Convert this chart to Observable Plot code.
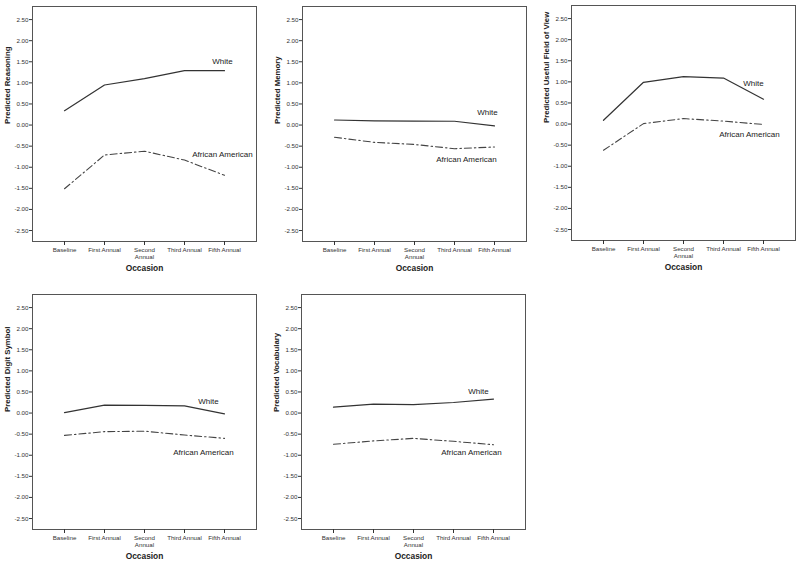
<!DOCTYPE html>
<html>
<head>
<meta charset="utf-8">
<script src="https://cdn.jsdelivr.net/npm/d3@7"></script>
<script src="https://cdn.jsdelivr.net/npm/@observablehq/plot@0.6"></script>
<style>
  html, body { margin: 0; padding: 0; background: #fff; overflow: hidden; }
  #wrap { position: relative; width: 800px; height: 562px; }
  .panel { position: absolute; width: 268px; }
  .panel svg { max-width: none !important; }
</style>
</head>
<body>
<div id="wrap"></div>
<script>
// ---- data ----
const occasions = ["Baseline", "First Annual", "Second\nAnnual", "Third Annual", "Fifth Annual"];
const groups = ["White", "African American"];
const yTicks = [-2.5, -2, -1.5, -1, -0.5, 0, 0.5, 1, 1.5, 2, 2.5];

const reasoningWhite = [0.34, 0.95, 1.10, 1.29, 1.29];
const reasoningAA    = [-1.51, -0.71, -0.62, -0.83, -1.19];
const memoryWhite    = [0.12, 0.10, 0.095, 0.09, -0.02];
const memoryAA       = [-0.29, -0.41, -0.46, -0.56, -0.52];
const ufovWhite      = [0.09, 0.99, 1.125, 1.09, 0.59];
const ufovAA         = [-0.62, 0.01, 0.13, 0.07, -0.01];
const digitWhite     = [0.01, 0.19, 0.18, 0.17, -0.02];
const digitAA        = [-0.53, -0.44, -0.43, -0.52, -0.60];
const vocabWhite     = [0.14, 0.21, 0.20, 0.25, 0.33];
const vocabAA        = [-0.74, -0.66, -0.60, -0.67, -0.75];

const yLabels = ["Predicted Reasoning", "Predicted Memory", "Predicted Useful Field of View",
                 "Predicted Digit Symbol", "Predicted Vocabulary"];

// ---- layout / annotation placement ----
const panels = [
  {label: yLabels[0], white: reasoningWhite, aa: reasoningAA, left: 0,   top: 0,
   wLab: {y: 1.505, dx: -2},  aLab: {y: -0.69, dx: -2}},
  {label: yLabels[1], white: memoryWhite,    aa: memoryAA,    left: 270, top: 0,
   wLab: {y: 0.29, dx: -7},   aLab: {y: -0.81, dx: -28}},
  {label: yLabels[2], white: ufovWhite,      aa: ufovAA,      left: 539, top: -1,
   wLab: {y: 0.96, dx: -10},  aLab: {y: -0.24, dx: -14}},
  {label: yLabels[3], white: digitWhite,     aa: digitAA,     left: 0,   top: 288,
   wLab: {y: 0.28, dx: -16},  aLab: {y: -0.94, dx: -21}},
  {label: yLabels[4], white: vocabWhite,     aa: vocabAA,     left: 269, top: 288,
   wLab: {y: 0.52, dx: -15},  aLab: {y: -0.94, dx: -22}}
];

const fmt = d => d.toFixed(2);
const wrap = document.getElementById("wrap");

for (const p of panels) {
  const rows = [];
  occasions.forEach((o, i) => {
    rows.push({occasion: o, group: groups[0], value: p.white[i]});
    rows.push({occasion: o, group: groups[1], value: p.aa[i]});
  });
  const chart = Plot.plot({
    width: 268,
    height: 282,
    marginLeft: 32,
    marginRight: 12,
    marginTop: 6,
    marginBottom: 41,
    style: {fontFamily: "'Liberation Sans', Arial, sans-serif", fontSize: "6px", color: "#333", background: "#fff"},
    x: {type: "point", domain: occasions, padding: 0.8},
    y: {domain: [-2.76, 2.81]},
    marks: [
      Plot.frame({stroke: "#555", strokeWidth: 1}),
      Plot.axisY({ticks: yTicks, tickFormat: fmt, tickSize: 3, tickPadding: 1, label: null, fontSize: 6.2, fill: "#333", stroke: "#333"}),
      Plot.axisX({tickSize: 4, tickPadding: 2, label: null, fontSize: 6.2, lineHeight: 1.05, fill: "#333", stroke: "#333"}),
      Plot.line(rows.filter(d => d.group === groups[0]),
        {x: "occasion", y: "value", stroke: "#333", strokeWidth: 1.2}),
      Plot.line(rows.filter(d => d.group === groups[1]),
        {x: "occasion", y: "value", stroke: "#444", strokeWidth: 1.1, strokeDasharray: "7,3,1.5,3"}),
      Plot.text([{occasion: occasions[4], value: p.wLab.y, t: groups[0]}],
        {x: "occasion", y: "value", text: "t", dx: p.wLab.dx, fontSize: 8, fill: "#222"}),
      Plot.text([{occasion: occasions[4], value: p.aLab.y, t: groups[1]}],
        {x: "occasion", y: "value", text: "t", dx: p.aLab.dx, fontSize: 8, fill: "#222"}),
      Plot.text([p.label], {frameAnchor: "left", dx: -25, rotate: -90, fontSize: 7.8, fontWeight: "bold", fill: "#222"}),
      Plot.text(["Occasion"], {frameAnchor: "bottom", dy: 29.5, fontSize: 8.4, fontWeight: "bold", fill: "#222"})
    ]
  });
  const div = document.createElement("div");
  div.className = "panel";
  div.style.left = p.left + "px";
  div.style.top = p.top + "px";
  div.appendChild(chart);
  wrap.appendChild(div);
}
</script>
</body>
</html>
